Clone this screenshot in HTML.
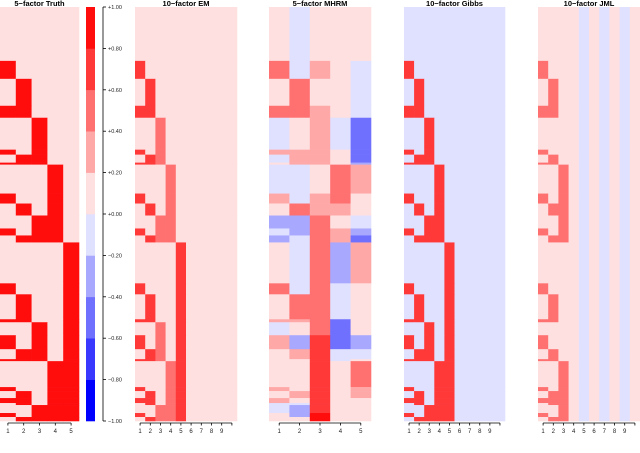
<!DOCTYPE html>
<html><head><meta charset="utf-8"><style>
html,body{margin:0;padding:0;background:#fff;}
svg{display:block;font-family:"Liberation Sans",sans-serif;}
</style></head><body>
<svg id="chart" width="640" height="453" viewBox="0 0 640 453"></svg>
<script>
// Row segments (items per block) and their true factor pattern (bitmask of factors 1..5)
const segCounts = [54,18,27,12,32,5,8,2,29,10,12,13,7,7,41,11,25,3,13,14,10,2,26,4,7,5,2,8,4,4];
const segMasks  = [0,1,2,3,4,5,6,7,8,9,10,12,13,14,16,17,18,19,20,21,22,23,24,25,26,27,26,28,29,30];
// Estimated loadings
const truthValue = 0.92;
const emLoadings = [0.62,0.65,0.55,0.5,0.62,0.05,0.05,0.05,0.05,0.05];
const mhrmValues = [
 [0.05,-0.05,0.1,0.05,0.1],[0.45,-0.05,0.25,0.1,-0.1],[0.1,0.5,0.1,0.2,-0.05],[0.5,0.45,0.35,0.15,-0.05],
 [-0.1,0.05,0.3,-0.05,-0.5],[0.3,0.3,0.3,0.05,-0.5],[-0.1,0.35,0.35,0.05,-0.5],[0.1,0.3,0.35,0.1,-0.3],
 [-0.05,-0.15,0.15,0.45,0.25],[0.35,-0.2,0.4,0.5,0.1],[0.05,0.45,0.4,0.3,0.1],[-0.3,-0.3,0.5,0.1,-0.15],
 [-0.1,-0.3,0.45,0.35,-0.3],[-0.3,-0.1,0.5,0.35,-0.5],[0.1,-0.05,0.45,-0.35,0.35],[0.5,-0.05,0.55,-0.2,0.2],
 [0.05,0.5,0.5,-0.1,0.15],[0.4,0.4,0.5,-0.5,0.0],[-0.1,0.1,0.55,-0.6,0.0],[0.35,-0.35,0.6,-0.4,-0.35],
 [0.0,0.3,0.6,-0.2,-0.1],[0.2,0.2,0.6,-0.1,0.1],[0.05,0.1,0.6,0.1,0.45],[0.3,0.2,0.65,0.1,0.35],
 [0.1,0.3,0.7,0.05,0.3],[0.3,0.2,0.7,0.05,0.2],[-0.1,-0.1,0.7,0.1,0.1],[-0.2,-0.35,0.75,0.05,0.1],
 [0.2,-0.35,0.8,0.05,0.05],[0.1,0.1,0.8,0.05,0.05]];
const gibbsLoading = 0.6;
const gibbsBackground = -0.1;
const jmlFactorMap = [0,1,3]; // JML cols 1-3 recover truth factors 1,2,4
const jmlLoading = 0.55;
const jmlBackground = [0.05,-0.1,0.05,-0.1,0.05,-0.08,0.05];
const cbTicks = ["+1.00","+0.80","+0.60","+0.40","+0.20","+0.00","\u22120.20","\u22120.40","\u22120.60","\u22120.80","\u22121.00"];
const binColors = ["#0000ff","#3838ff","#7070ff","#a8a8ff","#e0e0ff","#ffe0e0","#ffa8a8","#ff7070","#ff3838","#ff0c0c"];

const svg = document.getElementById('chart');
const NS = 'http://www.w3.org/2000/svg';
const top0 = 7, bot0 = 421;
const total = segCounts.reduce((a,b)=>a+b,0);
function yScale(r){ return top0 + (bot0-top0)*r/total; }
function colorOf(v){ let i = Math.floor((v+1)/0.2); if(i<0)i=0; if(i>9)i=9; return binColors[i]; }
function mk(tag, attrs){ const e=document.createElementNS(NS,tag); for(const k in attrs) e.setAttribute(k,attrs[k]); svg.appendChild(e); return e; }

function panel(name, title, x0, x1, ncol, valFn, nlabels){
  const g = document.createElementNS(NS,'g');
  
  
  svg.appendChild(g);
  const cw = (x1-x0)/ncol;
  let r = 0;
  segCounts.forEach((cnt, s) => {
    for(let c=0;c<ncol;c++){
      const rect = document.createElementNS(NS,'rect');
      rect.setAttribute('x', x0+c*cw); rect.setAttribute('y', yScale(r));
      rect.setAttribute('width', cw+0.3); rect.setAttribute('height', yScale(r+cnt)-yScale(r)+0.3);
      rect.setAttribute('fill', colorOf(valFn(s,c)));
      
      
      g.appendChild(rect);
    }
    r += cnt;
  });
  const t = mk('text',{x:(x0+x1)/2,y:6,'text-anchor':'middle','font-size':'7.5','font-weight':'bold',fill:'#000'});
  t.textContent = title;
  
  
  const c0 = x0+cw/2, c1 = x0+cw*(ncol-0.5);
  const ax = mk('line',{x1:c0,x2:c1,y1:423,y2:423,stroke:'#000','stroke-width':0.8});
  
  
  for(let c=0;c<ncol;c++){
    const cx = x0+cw*(c+0.5);
    const tk = mk('line',{x1:cx,x2:cx,y1:423,y2:425.5,stroke:'#000','stroke-width':0.8});
    
    
    if(c<nlabels){
      const lb = mk('text',{x:cx,y:433,'text-anchor':'middle','font-size':'6',fill:'#222'});
      lb.textContent = String(c+1);
      
      
    }
  }
}
function bit(s,c){ return (segMasks[s]>>c)&1; }

panel('truth-panel','5\u2212factor Truth',0,79,5,(s,c)=>bit(s,c)?truthValue:0.05,5);
panel('em-panel','10\u2212factor EM',135,237,10,(s,c)=>(c<5&&bit(s,c))?emLoadings[c]:0.05,9);
panel('mhrm-panel','5\u2212factor MHRM',269,371,5,(s,c)=>mhrmValues[s][c],5);
panel('gibbs-panel','10\u2212factor Gibbs',404,505,10,(s,c)=>(c<5&&bit(s,c))?gibbsLoading:gibbsBackground,9);
panel('jml-panel','10\u2212factor JML',538,640,10,(s,c)=>c<3?(bit(s,jmlFactorMap[c])?jmlLoading:0.05):jmlBackground[c-3],9);

// colorbar
const cbg = document.createElementNS(NS,'g');


svg.appendChild(cbg);
binColors.forEach((col,i)=>{
  const y0 = yScale(total) - (i+1)*(bot0-top0)/10;
  const r = document.createElementNS(NS,'rect');
  r.setAttribute('x',86); r.setAttribute('y',y0); r.setAttribute('width',9); r.setAttribute('height',(bot0-top0)/10+0.3);
  r.setAttribute('fill',col);
  
  
  cbg.appendChild(r);
});
const cbl = mk('line',{x1:103,x2:103,y1:top0,y2:bot0,stroke:'#000','stroke-width':0.8});


cbTicks.forEach((lab,i)=>{
  const y = top0 + i*(bot0-top0)/10;
  const tk = mk('line',{x1:103,x2:106,y1:y,y2:y,stroke:'#000','stroke-width':0.8});
  
  
  const t = mk('text',{x:108,y:y+2,'font-size':'5.5',fill:'#222'});
  t.textContent = lab;
  
  
});
</script>
</body></html>
